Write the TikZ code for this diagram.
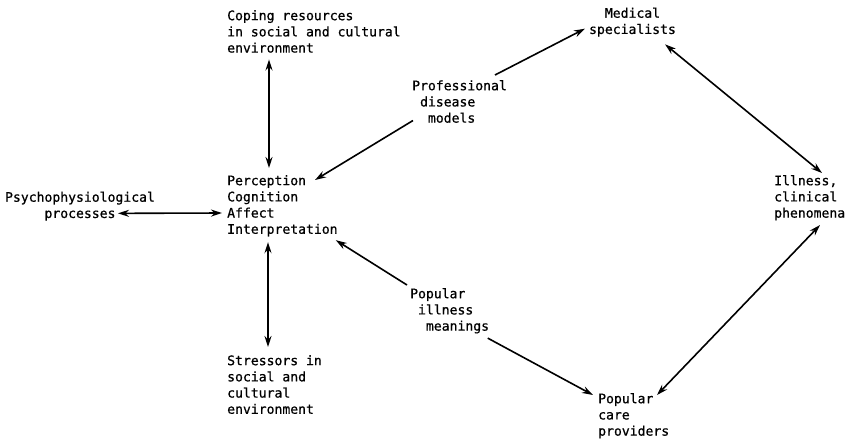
\documentclass[tikz,border=0pt]{standalone}
\usepackage{fontspec}
\usepackage{tikz}
\usetikzlibrary{positioning}
\usetikzlibrary{arrows.meta}

\newfontfamily\typefont[FakeBold=0.7]{DejaVu Sans Mono}
\newcommand{\ind}{\phantom{x}}

\begin{document}
\begin{tikzpicture}[x=1pt,y=-1pt
            ,txt/.style={inner sep=0pt,align=left,font=\typefont\fontsize{13.1pt}{16.2pt}\selectfont}
            ,link/.style={-{Stealth[length=11pt,width=7pt]},line width=1.6pt}
            ,both/.style={{Stealth[length=11pt,width=7pt]}-{Stealth[length=11pt,width=7pt]},line width=1.6pt}
            ]
  \useasboundingbox (0,0) rectangle (856,440);
  \node[txt,anchor=north west] (coping) at (227,10) {Coping resources\\in social and cultural\\environment};
  \node[txt,anchor=north west] (percep) at (227,175) {Perception\\Cognition\\Affect\\Interpretation};
  \node[txt,anchor=north west] (stress) at (227,355) {Stressors in\\social and\\cultural\\environment};
  \node[txt,align=center,anchor=north] (psycho) at (80,191.5) {Psychophysiological\\processes};
  \node[txt,anchor=north west] (prof) at (412,80) {Professional\\\ind disease\\\ind\ind models};
  \node[txt,anchor=north west] (popill) at (410,288) {Popular\\\ind illness\\\ind\ind meanings};
  \node[txt,align=center,anchor=north] (medical) at (632.5,7.5) {Medical\\specialists};
  \node[txt,anchor=north west] (illness) at (774,175) {Illness,\\clinical\\phenomena};
  \node[txt,anchor=north west] (popcare) at (598,393) {Popular\\care\\providers};

  \draw[both] ([shift={(42,6.5)}]coping.south west) -- ([shift={(42,-7)}]percep.north west);
  \draw[both] ([shift={(41,5.5)}]percep.south west) -- ([shift={(41,-8)}]stress.north west);
  \draw[both] ([shift={(38,-7.5)}]psycho.south) -- ([shift={(-5,38)}]percep.north west);
  \draw[link] ([shift={(1,-2.5)}]prof.south west) -- ([shift={(88,5)}]percep.north west);
  \draw[link] ([shift={(83,-5)}]prof.north west) -- ([shift={(-4,6.5)}]medical.west);
  \draw[link] ([shift={(-3,-3)}]popill.north west) -- ([shift={(-2,3.5)}]percep.south east);
  \draw[link] ([shift={(-1.5,4.5)}]popill.south east) -- ([shift={(-5,2)}]popcare.north west);
  \draw[both] ([shift={(-11,7.5)}]medical.south east) -- ([shift={(48,-2)}]illness.north west);
  \draw[both] ([shift={(46,4.5)}]illness.south west) -- ([shift={(59,2)}]popcare.north west);
\end{tikzpicture}
\end{document}
